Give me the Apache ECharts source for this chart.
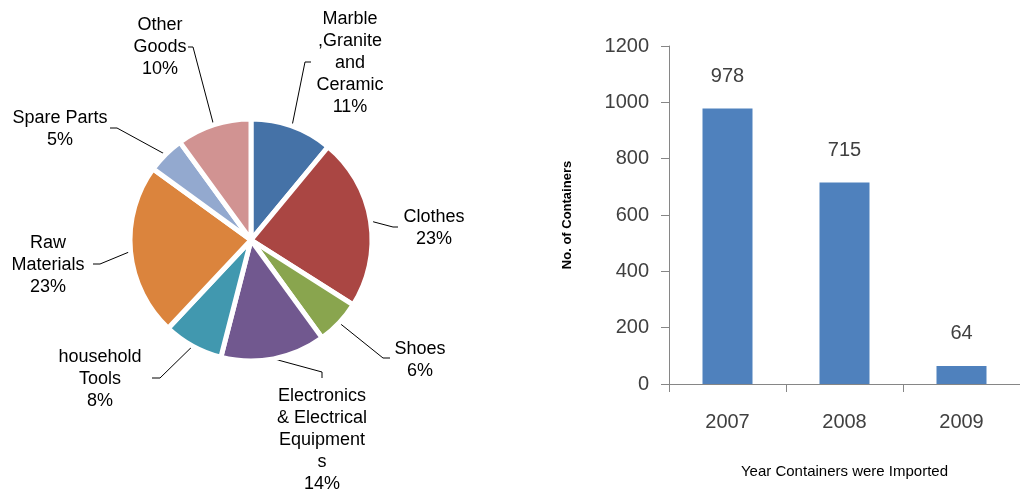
<!DOCTYPE html>
<html>
<head>
<meta charset="utf-8">
<script src="https://cdn.jsdelivr.net/npm/echarts@6/dist/echarts.min.js"></script>
<style>html,body{margin:0;padding:0;background:#fff;}#c{width:1020px;height:493px;}</style>
</head>
<body>
<div id="c"></div>
<script>
var pieNames = ['Marble\n,Granite\nand\nCeramic', 'Clothes', 'Shoes', 'Electronics\n& Electrical\nEquipment\ns', 'household\nTools', 'Raw\nMaterials', 'Spare Parts', 'Other\nGoods'];
var pieValues = [11, 23, 6, 14, 8, 23, 5, 10];
var pieColors = ['#4572A7', '#AA4643', '#89A54E', '#71588F', '#4198AF', '#DB843D', '#93A9CF', '#D19392'];
var years = ['2007', '2008', '2009'];
var containers = [978, 715, 64];
var yTicks = [0, 200, 400, 600, 800, 1000, 1200];

// label layout (positions of label text centers, and leader-line elbow/end points)
var labelSpots = [[350, 63], [434, 228], [420, 360], [322, 440], [100, 379], [48, 265], [60, 129], [160, 47]];
var lineElbows = [[305, 62], [393, 227], [383, 358], [322, 372], [160, 378], [100, 264], [117, 128], [193, 47]];
var lineEnds = [[311, 62], [398, 227], [390, 358], [322, 378], [152, 378], [93, 264], [110, 128], [188, 47]];

var chart = echarts.init(document.getElementById('c'));
chart.setOption({
  animation: false,
  textStyle: {fontFamily: 'Liberation Sans, Arial, sans-serif'},
  grid: {left: 669, width: 357, top: 46, bottom: 109},
  xAxis: {
    type: 'category', data: years,
    axisLine: {lineStyle: {color: '#868686'}},
    axisTick: {show: true, length: 8, lineStyle: {color: '#868686'}},
    axisLabel: {fontSize: 20, color: '#404040', margin: 28},
    name: 'Year Containers were Imported', nameLocation: 'middle', nameGap: 80,
    nameTextStyle: {fontSize: 15, color: '#000'}
  },
  yAxis: {
    type: 'value', min: yTicks[0], max: yTicks[yTicks.length - 1], interval: yTicks[1] - yTicks[0],
    axisLine: {show: true, lineStyle: {color: '#868686'}},
    axisTick: {show: true, length: 8, lineStyle: {color: '#868686'}},
    splitLine: {show: false},
    axisLabel: {fontSize: 20, color: '#404040', margin: 20, formatter: function (v) { return String(v); }},
    name: 'No. of Containers', nameLocation: 'middle', nameGap: 95,
    nameTextStyle: {fontSize: 13, fontWeight: 'bold', color: '#000'}
  },
  series: [
    {
      type: 'bar', data: containers, barWidth: 50,
      itemStyle: {color: '#4F81BD'},
      label: {show: true, position: 'top', distance: 22, fontSize: 20, color: '#404040'}
    },
    {
      type: 'pie', center: [251, 240], radius: [0, 121],
      startAngle: 90, clockwise: true,
      data: pieNames.map(function (n, i) { return {name: n, value: pieValues[i], itemStyle: {color: pieColors[i]}}; }),
      itemStyle: {borderColor: '#fff', borderWidth: 5},
      label: {show: true, formatter: '{b}\n{d}%', fontSize: 18, lineHeight: 22, color: '#000', align: 'center'},
      labelLine: {show: true, length: 10, length2: 10, lineStyle: {color: '#000', width: 1}},
      labelLayout: function (p) {
        var i = p.dataIndex;
        var s = labelSpots[i];
        var res = {x: s[0], y: s[1], align: 'center', verticalAlign: 'middle'};
        if (p.labelLinePoints && p.labelLinePoints.length) {
          res.labelLinePoints = [p.labelLinePoints[0].slice(), lineElbows[i], lineEnds[i]];
        }
        return res;
      }
    }
  ]
});
</script>
</body>
</html>
